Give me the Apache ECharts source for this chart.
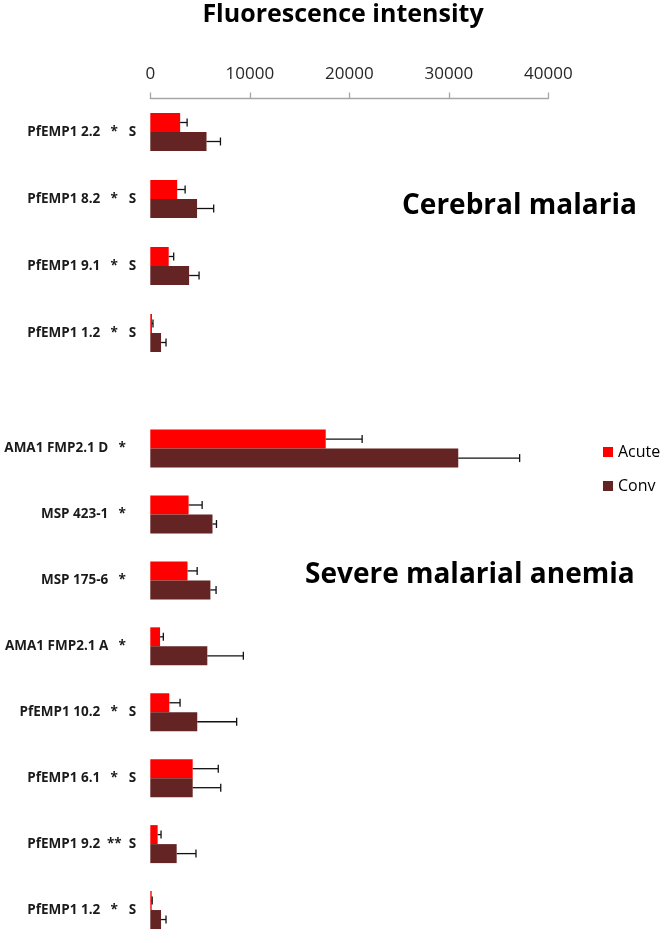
<!DOCTYPE html>
<html>
<head>
<meta charset="utf-8">
<script src="https://cdn.jsdelivr.net/npm/echarts@6/dist/echarts.min.js"></script>
<style>html,body{margin:0;padding:0;background:#fff}#c{width:666px;height:943px}</style>
</head>
<body>
<div id="c"></div>
<script>
// ---- data ----
const xTicks = [0, 10000, 20000, 30000, 40000];

const cmCategories = ['PfEMP1 2.2', 'PfEMP1 8.2', 'PfEMP1 9.1', 'PfEMP1 1.2'];
const cmStars = ['*', '*', '*', '*'];
const cmSuffix = ['S', 'S', 'S', 'S'];
const cmAcute = [3000, 2700, 1850, 170];
const cmAcuteErr = [700, 800, 500, 100];
const cmConv = [5650, 4700, 3900, 1080];
const cmConvErr = [1400, 1670, 1000, 500];

const smaCategories = ['AMA1 FMP2.1 D', 'MSP 423-1', 'MSP 175-6', 'AMA1 FMP2.1 A', 'PfEMP1 10.2', 'PfEMP1 6.1', 'PfEMP1 9.2', 'PfEMP1 1.2'];
const smaStars = ['*', '*', '*', '*', '*', '*', '**', '*'];
const smaSuffix = ['', '', '', '', 'S', 'S', 'S', 'S'];
const smaAcute = [17630, 3850, 3740, 980, 1910, 4260, 740, 140];
const smaAcuteErr = [3660, 1360, 970, 330, 1080, 2570, 340, 50];
const smaConv = [30950, 6250, 6040, 5730, 4720, 4260, 2650, 1080];
const smaConvErr = [6170, 400, 570, 3620, 3960, 2820, 1940, 500];

const seriesNames = ['Acute', 'Conv'];
const colors = ['#ff0000', '#632423'];

// ---- chart ----
const FONT = '"Open Sans", "Noto Sans", sans-serif';
const BAR_W = 19;
const ACUTE_SIGN = -1; // acute bar sits above conv bar

function labelFormatter(stars, suffix) {
  return function (value, idx) {
    let s = '{n|' + value + '}{st|' + stars[idx] + '}';
    if (suffix[idx]) s += '{sx|' + suffix[idx] + '}';
    return s;
  };
}
const LBL = { fontFamily: FONT, fontWeight: 'bold', fontSize: 13.5, color: '#1a1a1a' };
const richStyle = {
  n: Object.assign({}, LBL),
  st: Object.assign({ width: 28, align: 'center' }, LBL),
  sx: Object.assign({ width: 8, align: 'right' }, LBL)
};

function errData(acute, acuteErr, conv, convErr) {
  const out = [];
  acute.forEach((v, i) => out.push([v, i, acuteErr[i], 0]));
  conv.forEach((v, i) => out.push([v, i, convErr[i], 1]));
  return out;
}

function renderErr(params, api) {
  const v = api.value(0), cat = api.value(1), e = api.value(2), g = api.value(3);
  const p0 = api.coord([v, cat]);
  const p1 = api.coord([v + e, cat]);
  const y = p0[1] + (g === 0 ? ACUTE_SIGN : -ACUTE_SIGN) * BAR_W / 2;
  const st = { stroke: '#111', lineWidth: 1.3 };
  return {
    type: 'group',
    children: [
      { type: 'line', shape: { x1: p0[0], y1: y, x2: p1[0], y2: y }, style: st },
      { type: 'line', shape: { x1: p1[0], y1: y - 4, x2: p1[0], y2: y + 4 }, style: st }
    ]
  };
}

const chart = echarts.init(document.getElementById('c'), null, { renderer: 'canvas' });

const option = {
  animation: false,
  backgroundColor: '#fff',
  color: colors,
  graphic: [
    { type: 'text', x: 343, y: 15, style: { text: 'Fluorescence intensity', font: 'bold 25px ' + FONT, fill: '#000', textAlign: 'center', textVerticalAlign: 'middle' } },
    { type: 'text', x: 402, y: 206, style: { text: 'Cerebral malaria', font: 'bold 28px ' + FONT, fill: '#000', textAlign: 'left', textVerticalAlign: 'middle' } },
    { type: 'text', x: 305, y: 575, style: { text: 'Severe malarial anemia', font: 'bold 28px ' + FONT, fill: '#000', textAlign: 'left', textVerticalAlign: 'middle' } }
  ],
  legend: {
    data: seriesNames,
    orient: 'vertical',
    left: 603,
    top: 444,
    padding: 0,
    icon: 'rect',
    itemWidth: 10,
    itemHeight: 10,
    itemGap: 18,
    textStyle: { fontFamily: FONT, fontSize: 16, color: '#000' }
  },
  grid: [
    { left: 150.3, width: 398, top: 98.5, height: 268 },
    { left: 150.3, width: 398, top: 415.6, height: 538.4 }
  ],
  xAxis: [
    {
      gridIndex: 0, type: 'value', position: 'top', min: xTicks[0], max: xTicks[xTicks.length - 1], interval: xTicks[1] - xTicks[0],
      axisLine: { show: true, lineStyle: { color: '#a6a6a6', width: 1.3 } },
      axisTick: { show: true, length: 6, lineStyle: { color: '#a6a6a6', width: 1.3 } },
      axisLabel: { fontFamily: FONT, fontSize: 17, color: '#262626', margin: 16, formatter: v => String(v) },
      splitLine: { show: false }
    },
    {
      gridIndex: 1, type: 'value', min: xTicks[0], max: xTicks[xTicks.length - 1], interval: xTicks[1] - xTicks[0], show: false,
      splitLine: { show: false }
    }
  ],
  yAxis: [
    {
      gridIndex: 0, type: 'category', inverse: true, data: cmCategories,
      axisLine: { show: false }, axisTick: { show: false },
      axisLabel: { margin: 14, formatter: labelFormatter(cmStars, cmSuffix), rich: richStyle }
    },
    {
      gridIndex: 1, type: 'category', inverse: true, data: smaCategories,
      axisLine: { show: false }, axisTick: { show: false },
      axisLabel: { margin: 14, formatter: labelFormatter(smaStars, smaSuffix), rich: richStyle }
    }
  ],
  series: [
    { name: 'Acute', type: 'bar', xAxisIndex: 0, yAxisIndex: 0, data: cmAcute, barWidth: BAR_W, barGap: '0%', itemStyle: { color: colors[0] } },
    { name: 'Conv', type: 'bar', xAxisIndex: 0, yAxisIndex: 0, data: cmConv, barWidth: BAR_W, barGap: '0%', itemStyle: { color: colors[1] } },
    { name: 'Acute', type: 'bar', xAxisIndex: 1, yAxisIndex: 1, data: smaAcute, barWidth: BAR_W, barGap: '0%', itemStyle: { color: colors[0] } },
    { name: 'Conv', type: 'bar', xAxisIndex: 1, yAxisIndex: 1, data: smaConv, barWidth: BAR_W, barGap: '0%', itemStyle: { color: colors[1] } },
    { name: 'errCM', type: 'custom', xAxisIndex: 0, yAxisIndex: 0, data: errData(cmAcute, cmAcuteErr, cmConv, cmConvErr), encode: { x: 0, y: 1 }, renderItem: renderErr, z: 5, silent: true },
    { name: 'errSMA', type: 'custom', xAxisIndex: 1, yAxisIndex: 1, data: errData(smaAcute, smaAcuteErr, smaConv, smaConvErr), encode: { x: 0, y: 1 }, renderItem: renderErr, z: 5, silent: true }
  ]
};
chart.setOption(option);
</script>
</body>
</html>
